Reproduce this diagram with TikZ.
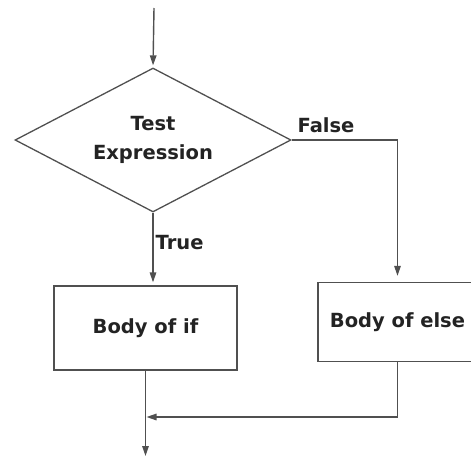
\documentclass[tikz,border=0pt]{standalone}
\usepackage{fontspec}
\setmainfont{DejaVu Sans}
\usetikzlibrary{arrows.meta,shapes.geometric}
\definecolor{cLine}{RGB}{80,80,80}
\definecolor{cText}{RGB}{35,35,35}
\tikzset{
	fdiam/.style={diamond, draw=cLine, line width=1.3pt, aspect=1.92,
		minimum width=276pt, minimum height=144pt, inner sep=0pt,
		align=center, text=cText, font=\bfseries\fontsize{19.5}{29}\selectfont},
	fbox/.style={draw=cLine, line width=1.3pt, inner sep=0pt,
		align=center, text=cText, font=\bfseries\fontsize{19.5}{24}\selectfont},
	flbl/.style={text=cText, inner sep=1pt,
		font=\bfseries\fontsize{19.5}{24}\selectfont},
	farr/.style={-{Triangle[length=10pt,width=6.5pt]}, line width=1.4pt,
		draw=cLine},
}
\begin{document}
\begin{tikzpicture}[x=1pt,y=-1pt]
	\useasboundingbox (0,0) rectangle (471,458);
	\node[fdiam] (test) at (153,140) {Test\\Expression};
	\node[fbox, minimum width=183pt, minimum height=84pt] (ifbody) at (145.5,328) {Body of if};
	\node[fbox, minimum width=159pt, minimum height=79pt] (elsebody) at (397.5,322) {Body of else};
	\coordinate (start) at (154,8);
	\coordinate (merge) at (146.5,417);
	\coordinate (end) at (145.5,456);
	\draw[farr, shorten >=2pt] (start) -- (test.north);
	\draw[farr, shorten >=3pt] (test.south) -- node[flbl, pos=0.5, anchor=west, xshift=1pt, yshift=6pt] {True} (test.south |- ifbody.north);
	\draw[farr, shorten >=6pt] (test.east) -- node[flbl, pos=0.04, anchor=south west, yshift=6pt] {False} (test.east -| elsebody.north) -- (elsebody.north);
	\draw[farr] (elsebody.south) |- (merge);
	\draw[farr] (ifbody.south) -- (end);
\end{tikzpicture}
\end{document}
